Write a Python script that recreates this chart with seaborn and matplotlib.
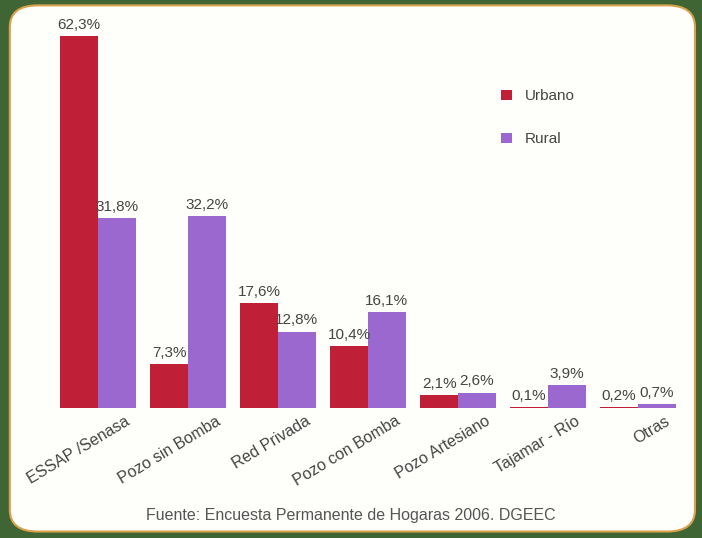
import pandas as pd
import matplotlib.pyplot as plt
import matplotlib.transforms as mtransforms
import seaborn as sns
from matplotlib.patches import FancyBboxPatch

categorias = ['ESSAP /Senasa', 'Pozo sin Bomba', 'Red Privada', 'Pozo con Bomba',
              'Pozo Artesiano', 'Tajamar - Río', 'Otras']
urbano = [62.3, 7.3, 17.6, 10.4, 2.1, 0.1, 0.2]
rural = [31.8, 32.2, 12.8, 16.1, 2.6, 3.9, 0.7]
zonas = ['Urbano', 'Rural']
colores = ['#c01f38', '#9a68cf']

df = pd.DataFrame({
    'categoria': categorias * 2,
    'valor': urbano + rural,
    'zona': ['Urbano'] * len(categorias) + ['Rural'] * len(categorias),
})

sns.set_style('white')
plt.rcParams['font.family'] = ['Liberation Sans Narrow', 'Liberation Sans', 'DejaVu Sans']

fig = plt.figure(figsize=(7.02, 5.38), dpi=100, facecolor='#3f6535')
# white rounded panel behind the axes
panel = FancyBboxPatch((0.014, 0.012), 0.976, 0.978, boxstyle='round,pad=0,rounding_size=0.04',
                       transform=fig.transFigure, facecolor='#fefefb', edgecolor='#d9a24a',
                       linewidth=1.5, zorder=-1)
fig.patches.append(panel)

ax = fig.add_axes([0.0755, 0.2416, 0.8975, 0.71])
ax.set_facecolor('none')
sns.barplot(data=df, x='categoria', y='valor', hue='zona', hue_order=zonas,
            palette=colores, width=0.84, saturation=1, linewidth=0, ax=ax)

for cont in ax.containers:
    ax.bar_label(cont, labels=[f'{v:.1f}%'.replace('.', ',') for v in cont.datavalues],
                 padding=3, fontsize=11, color='#444444')

ax.set_xlim(-0.5, 6.5)
ax.set_ylim(0, 64)
ax.set_xlabel('')
ax.set_ylabel('')
ax.set_yticks([])
ax.tick_params(axis='x', length=0, pad=4)
shift = mtransforms.ScaledTranslation(0.27, 0, fig.dpi_scale_trans)
for lbl in ax.get_xticklabels():
    lbl.set_rotation(31)
    lbl.set_ha('right')
    lbl.set_rotation_mode('anchor')
    lbl.set_fontsize(11.5)
    lbl.set_color('#444444')
    lbl.set_transform(lbl.get_transform() + shift)
sns.despine(ax=ax, left=True, bottom=True)

ax.legend(loc='upper left', bbox_to_anchor=(0.69, 0.87), frameon=False, fontsize=11,
          handlelength=0.7, handleheight=0.7, labelspacing=1.9, labelcolor='#444444')

fig.text(0.5, 0.034, 'Fuente: Encuesta Permanente de Hogaras 2006. DGEEC',
         ha='center', va='baseline', fontsize=11.5, color='#555555')

fig.savefig('out.png', dpi=100, facecolor=fig.get_facecolor())
